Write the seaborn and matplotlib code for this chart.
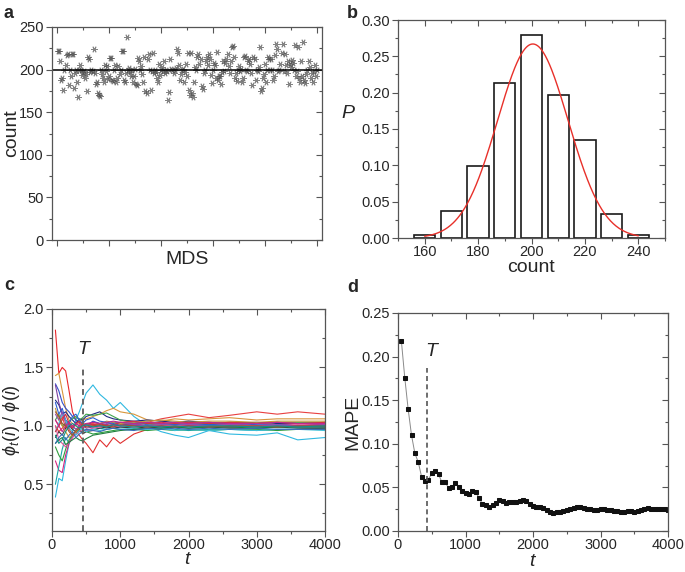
import numpy as np
import pandas as pd
import seaborn as sns
import matplotlib
matplotlib.use("Agg")
import matplotlib.pyplot as plt
from matplotlib.ticker import MultipleLocator, NullFormatter, FormatStrFormatter

sns.set_style("ticks")
plt.rcParams['font.family'] = ['Liberation Sans', 'DejaVu Sans']
plt.rcParams['mathtext.fontset'] = 'custom'
plt.rcParams['mathtext.rm'] = 'Liberation Sans'
plt.rcParams['mathtext.it'] = 'Liberation Sans:italic'
plt.rcParams['mathtext.bf'] = 'Liberation Sans:bold'

# ---------------- data ----------------
# panel a: count per MDS
mds_counts = [
    222, 222, 210, 188, 190, 176, 200, 205, 217, 218, 182, 200, 192, 218, 218, 178, 196, 200, 185, 168, 200, 205, 199, 194, 197,
    198, 190, 195, 175, 215, 212, 197, 200, 198, 224, 196, 183, 186, 172, 170, 169, 200, 195, 190, 185, 205, 198, 204, 189, 192,
    214, 214, 188, 187, 200, 205, 186, 190, 204, 195, 200, 222, 222, 188, 186, 196, 238, 200, 202, 197, 192, 199, 185, 193, 201,
    183, 182, 214, 210, 200, 204, 195, 186, 215, 175, 173, 212, 218, 200, 176, 198, 220, 196, 200, 197, 190, 185, 207, 194, 199,
    203, 198, 210, 196, 200, 198, 164, 174, 212, 201, 199, 196, 200, 202, 224, 219, 205, 188, 195, 200, 201, 185, 197, 206, 192,
    220, 176, 170, 220, 172, 168, 186, 203, 199, 215, 218, 207, 213, 181, 177, 196, 200, 210, 215, 205, 218, 213, 194, 184, 199,
    208, 205, 190, 221, 188, 193, 192, 183, 197, 210, 198, 208, 212, 218, 204, 196, 210, 226, 228, 215, 190, 196, 187, 200, 204,
    198, 201, 186, 190, 215, 216, 200, 198, 210, 212, 206, 196, 182, 215, 212, 188, 200, 198, 203, 226, 175, 178, 190, 195, 207,
    186, 200, 215, 213, 200, 213, 200, 188, 193, 217, 230, 224, 198, 200, 207, 220, 230, 198, 218, 205, 196, 210, 183, 207, 203,
    211, 208, 200, 229, 192, 198, 226, 190, 185, 210, 192, 232, 188, 184, 195, 200, 210, 203, 190, 196, 185, 198, 205, 193, 200,
]
mds_index = list(range(1, len(mds_counts) + 1))
mean_line = 200

# panel b: histogram of counts
hist_centers = [160, 170, 180, 190, 200, 210, 220, 230, 240]
hist_probs = [0.004, 0.037, 0.099, 0.213, 0.279, 0.197, 0.135, 0.033, 0.004]
fit_amp, fit_mu, fit_sigma = 0.267, 200.5, 13.2
fit_range = (160, 240)

# panel c: phi_t(i) / phi(i)
t_c = [50, 100, 150, 200, 250, 300, 350, 400, 450, 500, 600, 700, 800, 900, 1000,
       1200, 1400, 1600, 1800, 2000, 2300, 2600, 3000, 3300, 3600, 4000]
ratio_series = {
    's1':  [1.82,1.45,1.50,1.47,1.30,1.12,1.05,1.02,0.98,1.00,1.03,1.02,1.01,1.03,1.02,1.01,1.02,1.01,1.00,1.01,1.02,1.01,1.00,1.01,1.02,1.01],
    's2':  [1.00,0.95,0.98,1.02,0.97,0.93,0.95,0.92,0.88,0.85,0.77,0.88,0.82,0.90,0.85,0.93,0.97,1.00,0.99,1.00,1.00,0.99,1.00,0.99,1.00,1.00],
    's3':  [1.05,1.00,1.08,0.98,1.02,1.00,0.97,1.00,1.03,1.00,1.02,1.00,0.98,1.01,1.00,1.02,1.03,1.06,1.08,1.10,1.07,1.09,1.12,1.10,1.12,1.10],
    's4':  [0.39,0.55,0.53,0.70,0.85,0.95,1.05,1.12,1.20,1.28,1.35,1.27,1.22,1.15,1.20,1.08,1.00,0.95,0.92,0.90,0.96,0.93,0.92,0.94,0.88,0.90],
    's5':  [1.43,1.45,1.30,1.15,1.05,1.02,1.00,1.04,1.05,1.06,1.08,1.10,1.13,1.15,1.12,1.10,1.05,1.04,1.06,1.05,1.06,1.07,1.05,1.06,1.06,1.06],
    's6':  [0.70,0.62,0.60,0.75,0.85,0.90,0.95,0.98,1.00,1.02,1.00,1.01,0.99,1.00,1.02,1.01,1.00,1.02,1.01,1.00,1.01,1.02,1.00,1.01,1.02,1.01],
    's7':  [0.50,0.65,0.80,0.90,0.85,0.92,0.95,0.97,0.98,0.96,0.97,0.98,0.97,0.98,0.99,0.98,0.97,0.98,0.97,0.96,0.97,0.97,0.96,0.97,0.97,0.98],
    's8':  [1.36,1.30,1.20,1.15,1.12,1.08,1.05,1.03,1.02,1.00,1.04,1.02,1.03,1.01,1.02,1.00,1.01,1.00,0.99,1.00,0.99,1.00,0.99,1.00,0.99,0.99],
    's9':  [1.22,1.18,1.10,1.12,1.08,1.05,1.02,1.06,1.05,1.08,1.10,1.12,1.08,1.06,1.05,1.04,1.05,1.04,1.03,1.04,1.03,1.02,1.03,1.02,1.02,1.02],
    's10': [0.82,0.75,0.70,0.80,0.88,0.92,0.95,0.96,0.94,0.95,0.93,0.94,0.95,0.96,0.97,0.97,0.96,0.97,0.96,0.97,0.96,0.97,0.97,0.96,0.97,0.97],
    's11': [1.05,1.10,1.00,1.02,1.04,1.06,1.08,1.05,1.07,1.10,1.09,1.10,1.11,1.08,1.05,1.03,1.02,1.01,1.02,1.03,1.02,1.03,1.02,1.03,1.03,1.03],
    's12': [1.35,1.20,1.10,1.05,1.00,0.98,1.02,1.00,1.01,0.98,0.99,1.00,1.01,0.99,1.00,1.01,1.00,0.99,1.00,1.01,1.00,0.99,1.00,1.01,1.00,1.00],
    's13': [0.90,0.95,0.92,0.98,1.00,0.97,0.95,0.97,0.93,0.95,0.96,0.98,0.99,0.98,0.99,0.98,0.99,0.98,0.99,0.98,0.99,0.98,0.98,0.99,0.98,0.98],
    's14': [1.15,1.05,1.00,0.95,0.90,0.92,0.95,0.98,1.00,1.01,1.00,1.02,1.04,1.03,1.02,1.03,1.04,1.05,1.04,1.03,1.04,1.04,1.03,1.04,1.04,1.04],
    's15': [1.00,0.88,0.85,0.82,0.86,0.90,0.93,0.95,0.97,0.96,0.98,0.99,1.00,0.99,1.00,0.99,1.00,1.01,1.00,1.01,1.00,1.01,1.00,1.00,1.01,1.00],
    's16': [1.20,1.10,1.15,1.05,1.02,1.08,1.10,1.05,1.02,1.05,1.07,1.04,1.03,1.02,1.03,1.02,1.03,1.02,1.01,1.02,1.01,1.02,1.01,1.01,1.00,1.00],
    's17': [0.95,1.02,1.10,1.05,0.98,0.95,0.92,0.96,0.98,0.95,0.97,0.96,0.97,0.98,0.97,0.98,0.97,0.98,0.96,0.97,0.96,0.97,0.96,0.97,0.97,0.96],
    's18': [0.85,0.88,0.90,0.84,0.86,0.88,0.90,0.88,0.87,0.89,0.92,0.93,0.94,0.95,0.96,0.97,0.98,0.98,0.99,0.98,0.99,0.99,0.98,0.99,0.99,0.99],
    's19': [1.10,1.05,1.12,1.02,0.98,1.00,0.97,0.99,1.02,1.00,1.01,1.00,1.02,1.01,1.00,1.01,1.00,1.01,1.02,1.01,1.00,1.01,1.02,1.01,1.00,1.01],
    's20': [0.95,1.00,1.05,1.10,1.02,0.98,1.02,1.04,1.00,1.02,1.01,1.02,1.00,1.01,1.03,1.04,1.02,1.03,1.02,1.03,1.02,1.03,1.02,1.03,1.02,1.03],
    's21': [0.85,0.90,0.93,0.88,0.92,0.95,0.90,0.93,0.95,0.97,0.96,0.95,0.97,0.98,0.97,0.96,0.98,0.97,0.98,0.97,0.98,0.97,0.98,0.97,0.97,0.97],
    's22': [1.05,1.00,0.95,1.00,1.03,1.00,1.02,1.00,0.98,1.02,1.03,1.02,1.03,1.04,1.03,1.02,1.03,1.02,1.03,1.02,1.03,1.02,1.02,1.03,1.02,1.02],
    's23': [1.12,1.08,1.02,1.00,0.95,0.92,0.96,0.98,1.01,0.99,1.00,1.01,1.00,0.99,1.01,1.00,0.99,1.00,0.99,1.00,0.99,1.00,1.00,0.99,1.00,1.00],
    's24': [0.92,0.85,0.88,0.95,1.00,1.02,1.00,0.98,1.00,1.01,0.99,1.00,0.99,1.01,1.00,0.99,1.00,0.99,1.00,0.99,1.00,1.00,0.99,1.00,0.99,1.00],
}
series_colors = ['#e8262a', '#e03030', '#e84040', '#2fb8e0', '#d8963c', '#d4237f',
                 '#1aa5a8', '#3450c8', '#202a80', '#2e9e3e', '#3fa34d', '#7c3fa0',
                 '#404040', '#c79a3a', '#e0509a', '#2b5fd0', '#40c0d8', '#208040',
                 '#9050b0', '#d83040', '#3a6ab8', '#c02890', '#a0522d', '#10908a']
T_c = 460

# panel d: MAPE vs t
t_d = list(range(50, 4001, 50))
mape = [0.218, 0.176, 0.140, 0.110, 0.089, 0.079, 0.062, 0.057, 0.059, 0.066,
        0.069, 0.065, 0.056, 0.056, 0.049, 0.051, 0.055, 0.050, 0.046, 0.044,
        0.043, 0.046, 0.045, 0.038, 0.031, 0.030, 0.028, 0.030, 0.032, 0.035,
        0.034, 0.032, 0.033, 0.033, 0.033, 0.034, 0.035, 0.034, 0.031, 0.029,
        0.027, 0.027, 0.026, 0.024, 0.022, 0.021, 0.022, 0.022, 0.023, 0.024,
        0.025, 0.026, 0.027, 0.027, 0.026, 0.025, 0.025, 0.024, 0.024, 0.025,
        0.025, 0.024, 0.024, 0.023, 0.023, 0.022, 0.022, 0.023, 0.023, 0.022,
        0.023, 0.024, 0.025, 0.026, 0.025, 0.025, 0.025, 0.025, 0.025, 0.024]
T_d = 425

# ---------------- figure ----------------
W, H = 685, 572
fig = plt.figure(figsize=(W / 100, H / 100), dpi=100)

def box(l, r, t, b):
    return [l / W, 1 - b / H, (r - l) / W, (b - t) / H]

axA = fig.add_axes(box(52, 322, 27, 240))
axB = fig.add_axes(box(398, 665, 20, 238))
axC = fig.add_axes(box(52, 325, 309, 531))
axD = fig.add_axes(box(398, 668, 313, 531))

TICK = 10.5
LAB = 14
spine_col = '#555555'

def style(ax):
    for s in ax.spines.values():
        s.set_color(spine_col)
        s.set_linewidth(0.9)
        s.set_visible(True)
    ax.tick_params(which='both', direction='out', color=spine_col, labelsize=TICK,
                   top=False, right=False, pad=2)
    ax.tick_params(axis='x', which='both', pad=1)
    ax.tick_params(which='major', length=4, width=0.8)
    ax.tick_params(which='minor', length=2.5, width=0.8)
    sec = ax.secondary_xaxis('top')
    sec.tick_params(which='both', direction='in', color=spine_col, labeltop=False)
    sec.tick_params(which='major', length=4, width=0.8)
    sec.tick_params(which='minor', length=2.5, width=0.8)
    sec.xaxis.set_major_locator(ax.xaxis.get_major_locator())
    sec.xaxis.set_minor_locator(ax.xaxis.get_minor_locator())
    sec.xaxis.set_major_formatter(NullFormatter())
    sec.spines['top'].set_visible(False)
    secy = ax.secondary_yaxis('right')
    secy.tick_params(which='both', direction='in', color=spine_col, labelright=False)
    secy.tick_params(which='major', length=4, width=0.8)
    secy.tick_params(which='minor', length=2.5, width=0.8)
    secy.yaxis.set_major_locator(ax.yaxis.get_major_locator())
    secy.yaxis.set_minor_locator(ax.yaxis.get_minor_locator())
    secy.yaxis.set_major_formatter(NullFormatter())
    secy.spines['right'].set_visible(False)

def place_labels(ax, ax_l, ax_r, ax_t, ax_b, ylab_x, xlab_y, ylab_y=None):
    w = ax_r - ax_l
    h = ax_b - ax_t
    ax.xaxis.label.set_va('center')
    ax.yaxis.label.set_va('center')
    ax.xaxis.set_label_coords(0.5, (ax_b - xlab_y) / h)
    yy = 0.5 if ylab_y is None else (ax_b - ylab_y) / h
    ax.yaxis.set_label_coords((ylab_x - ax_l) / w, yy)

# ----- panel a -----
dfA = pd.DataFrame({'MDS': mds_index, 'count': mds_counts})
sns.scatterplot(data=dfA, x='MDS', y='count', ax=axA, marker=(6, 2, 90), s=16,
                color='#505050', linewidth=0.7, alpha=0.7, edgecolor='#505050')
axA.axhline(mean_line, color='black', lw=1.1)
axA.set_xlim(-5, 255)
axA.set_ylim(0, 250)
axA.xaxis.set_major_locator(MultipleLocator(50))
axA.xaxis.set_minor_locator(MultipleLocator(25))
axA.yaxis.set_major_locator(MultipleLocator(50))
axA.yaxis.set_minor_locator(MultipleLocator(25))
axA.xaxis.set_major_formatter(NullFormatter())
axA.set_xlabel('MDS', fontsize=LAB)
axA.set_ylabel('count', fontsize=LAB)
style(axA)
place_labels(axA, 52, 322, 27, 240, ylab_x=12, xlab_y=260)

# ----- panel b -----
dfB = pd.DataFrame({'count': hist_centers, 'P': hist_probs})
sns.barplot(data=dfB, x='count', y='P', ax=axB, native_scale=True, width=0.8,
            color='white', edgecolor='#1a1a1a', linewidth=1.2, errorbar=None,
            saturation=1)
xs = np.linspace(fit_range[0], fit_range[1], 300)
dfFit = pd.DataFrame({'x': xs, 'y': fit_amp * np.exp(-(xs - fit_mu) ** 2 / (2 * fit_sigma ** 2))})
sns.lineplot(data=dfFit, x='x', y='y', ax=axB, color='#e8302a', lw=1.0)
axB.set_xlim(150, 250)
axB.set_ylim(0, 0.30)
axB.xaxis.set_major_locator(MultipleLocator(20))
axB.xaxis.set_minor_locator(MultipleLocator(10))
axB.yaxis.set_major_locator(MultipleLocator(0.05))
axB.yaxis.set_minor_locator(MultipleLocator(0.025))
axB.yaxis.set_major_formatter(FormatStrFormatter('%.2f'))
axB.set_xlabel('count', fontsize=LAB)
axB.set_ylabel('$P$', fontsize=LAB, rotation=0)
style(axB)
place_labels(axB, 398, 665, 20, 238, ylab_x=348, xlab_y=268, ylab_y=114)

# ----- panel c -----
rows = []
for name, vals in ratio_series.items():
    for t, v in zip(t_c, vals):
        rows.append((name, t, v))
dfC = pd.DataFrame(rows, columns=['series', 't', 'ratio'])
sns.lineplot(data=dfC, x='t', y='ratio', hue='series', palette=series_colors,
             ax=axC, legend=False, lw=0.8, estimator=None)
axC.plot([T_c, T_c], [0.1, 1.5], ls=(0, (3, 2)), color='#666666', lw=1.4)
axC.text(T_c + 20, 1.58, '$T$', fontsize=14, ha='center', va='bottom')
axC.set_xlim(0, 4000)
axC.set_ylim(0.1, 2.0)
axC.xaxis.set_major_locator(MultipleLocator(1000))
axC.xaxis.set_minor_locator(MultipleLocator(500))
axC.yaxis.set_major_locator(MultipleLocator(0.5))
axC.yaxis.set_minor_locator(MultipleLocator(0.25))
axC.set_xlabel('$t$', fontsize=LAB)
axC.set_ylabel(r'$\phi_t(i)\ /\ \phi(i)$', fontsize=13)
style(axC)
place_labels(axC, 52, 325, 309, 531, ylab_x=12, xlab_y=560)

# ----- panel d -----
dfD = pd.DataFrame({'t': t_d, 'MAPE': mape})
sns.lineplot(data=dfD, x='t', y='MAPE', ax=axD, color='#8a8a8a', lw=0.7,
             marker='s', markersize=3.0, markerfacecolor='#111111',
             markeredgecolor='#111111')
axD.plot([T_d, T_d], [0, 0.187], ls=(0, (3, 2)), color='#555555', lw=1.2)
axD.text(T_d + 80, 0.196, '$T$', fontsize=14, ha='center', va='bottom')
axD.set_xlim(0, 4000)
axD.set_ylim(0, 0.25)
axD.xaxis.set_major_locator(MultipleLocator(1000))
axD.xaxis.set_minor_locator(MultipleLocator(500))
axD.yaxis.set_major_locator(MultipleLocator(0.05))
axD.yaxis.set_minor_locator(MultipleLocator(0.025))
axD.yaxis.set_major_formatter(FormatStrFormatter('%.2f'))
axD.set_xlabel('$t$', fontsize=LAB)
axD.set_ylabel('MAPE', fontsize=LAB)
style(axD)
place_labels(axD, 398, 668, 313, 531, ylab_x=353, xlab_y=561)

# panel letters
for letter, (x, y) in {'a': (4, 14), 'b': (347, 14), 'c': (4, 286), 'd': (347, 288)}.items():
    fig.text(x / W, 1 - y / H, letter, fontsize=13, fontweight='bold', va='center', ha='left')

fig.savefig('out.png', dpi=100)
